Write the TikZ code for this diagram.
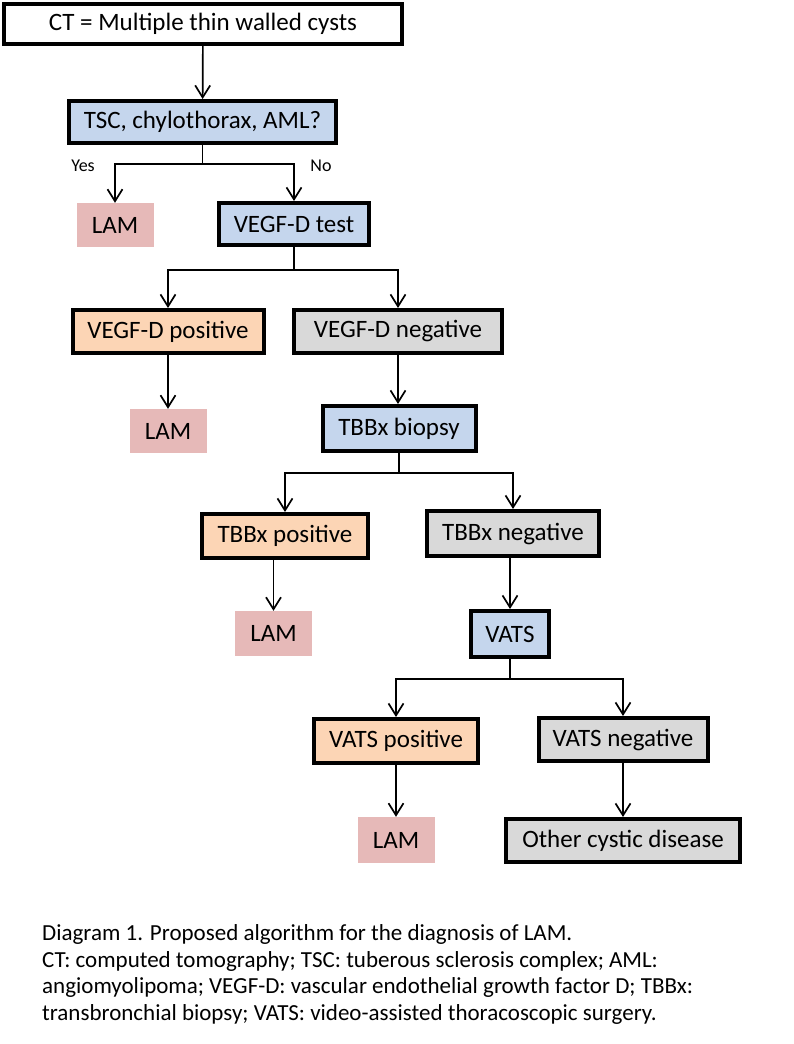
\documentclass[tikz,border=0pt]{standalone}
\usepackage{fontspec}
\setmainfont{Carlito}
\usetikzlibrary{arrows.meta}
\definecolor{askblue}{RGB}{197,214,237}
\definecolor{posorange}{RGB}{252,213,181}
\definecolor{neggray}{RGB}{217,217,217}
\definecolor{lampink}{RGB}{230,185,184}
\tikzset{
box/.style={draw=black,line width=4pt,inner sep=0pt,font=\fontsize{25}{30}\selectfont},
lambox/.style={fill=lampink,inner sep=0pt,minimum width=77pt,minimum height=44pt,font=\fontsize{25}{30}\selectfont},
link/.style={line width=1.7pt},
arr/.style={line width=1.7pt,-{Straight Barb[length=12pt,width=15pt]}}
}
\begin{document}
\begin{tikzpicture}[x=1pt,y=-1pt]
\fill[white] (0,0) rectangle (793,1044);
\useasboundingbox (0,0) rectangle (793,1044);
\node[box,fill=white,minimum width=398pt,minimum height=40pt] (ct) at (203,24) {CT = Multiple thin walled cysts};
\node[box,fill=askblue,minimum width=267pt,minimum height=42pt] (tsc) at (202.5,122) {TSC, chylothorax, AML?};
\node[lambox] (lamA) at (115,225) {LAM};
\node[box,fill=askblue,minimum width=150pt,minimum height=42pt] (vegf) at (294,224) {VEGF-D test};
\node[box,fill=posorange,minimum width=191pt,minimum height=43pt] (vpos) at (168,331.5) {VEGF-D positive};
\node[box,fill=neggray,minimum width=208pt,minimum height=43pt] (vneg) at (398,331.5) {VEGF-D negative};
\node[lambox] (lamB) at (168,431) {LAM};
\node[box,fill=askblue,minimum width=153pt,minimum height=45pt] (tbbx) at (399,428.5) {TBBx biopsy};
\node[box,fill=posorange,minimum width=166pt,minimum height=44pt] (tpos) at (285,536) {TBBx positive};
\node[box,fill=neggray,minimum width=172pt,minimum height=45pt] (tneg) at (513,533.5) {TBBx negative};
\node[lambox,minimum height=45pt] (lamC) at (273.5,633.5) {LAM};
\node[box,fill=askblue,minimum width=78pt,minimum height=46pt] (vats) at (510,634) {VATS};
\node[box,fill=posorange,minimum width=164pt,minimum height=44pt] (vatp) at (396,741) {VATS positive};
\node[box,fill=neggray,minimum width=169pt,minimum height=43pt] (vatn) at (623,739.5) {VATS negative};
\node[lambox,minimum height=46pt] (lamD) at (396,840) {LAM};
\node[box,fill=neggray,minimum width=234pt,minimum height=43pt] (other) at (623,840.5) {Other cystic disease};
\draw[arr] (ct) -- (tsc);
\draw[link] (tsc.south) -- ++(0,19) coordinate (j1);
\draw[arr] (j1) -| (lamA.north);
\draw[arr] (j1) -| (vegf.north);
\node[font=\fontsize{18}{22}\selectfont] (yes) at (83,166) {Yes};
\node[font=\fontsize{18}{22}\selectfont] (no) at (321,166) {No};
\draw[link] (vegf.south) -- ++(0,23) coordinate (j2);
\draw[arr] (j2) -| (vpos.north);
\draw[arr] (j2) -| (vneg.north);
\draw[arr] (vpos.south -| lamB.north) -- (lamB.north);
\draw[arr] (vneg.south) -- (vneg.south |- tbbx.north);
\draw[link] (tbbx.south) -- ++(0,20) coordinate (j3);
\draw[arr] (j3) -| (tpos.north);
\draw[arr] (j3) -| (tneg.north);
\draw[arr] (tpos.south -| lamC.north) -- (lamC.north);
\draw[arr] (tneg.south -| vats.north) -- (vats.north);
\draw[link] (vats.south) -- ++(0,20) coordinate (j4);
\draw[arr] (j4) -| (vatp.north);
\draw[arr] (j4) -| (vatn.north);
\draw[arr] (vatp.south -| lamD.north) -- (lamD.north);
\draw[arr] (vatn.south -| other.north) -- (other.north);
\node[anchor=base west,align=left,inner sep=0pt,font=\fontsize{23}{26.5}\selectfont] (caption) at (42,1020) {Diagram 1. Proposed algorithm for the diagnosis of LAM.\\CT: computed tomography; TSC: tuberous sclerosis complex; AML:\\angiomyolipoma; VEGF-D: vascular endothelial growth factor D; TBBx:\\transbronchial biopsy; VATS: video-assisted thoracoscopic surgery.};
\end{tikzpicture}
\end{document}
